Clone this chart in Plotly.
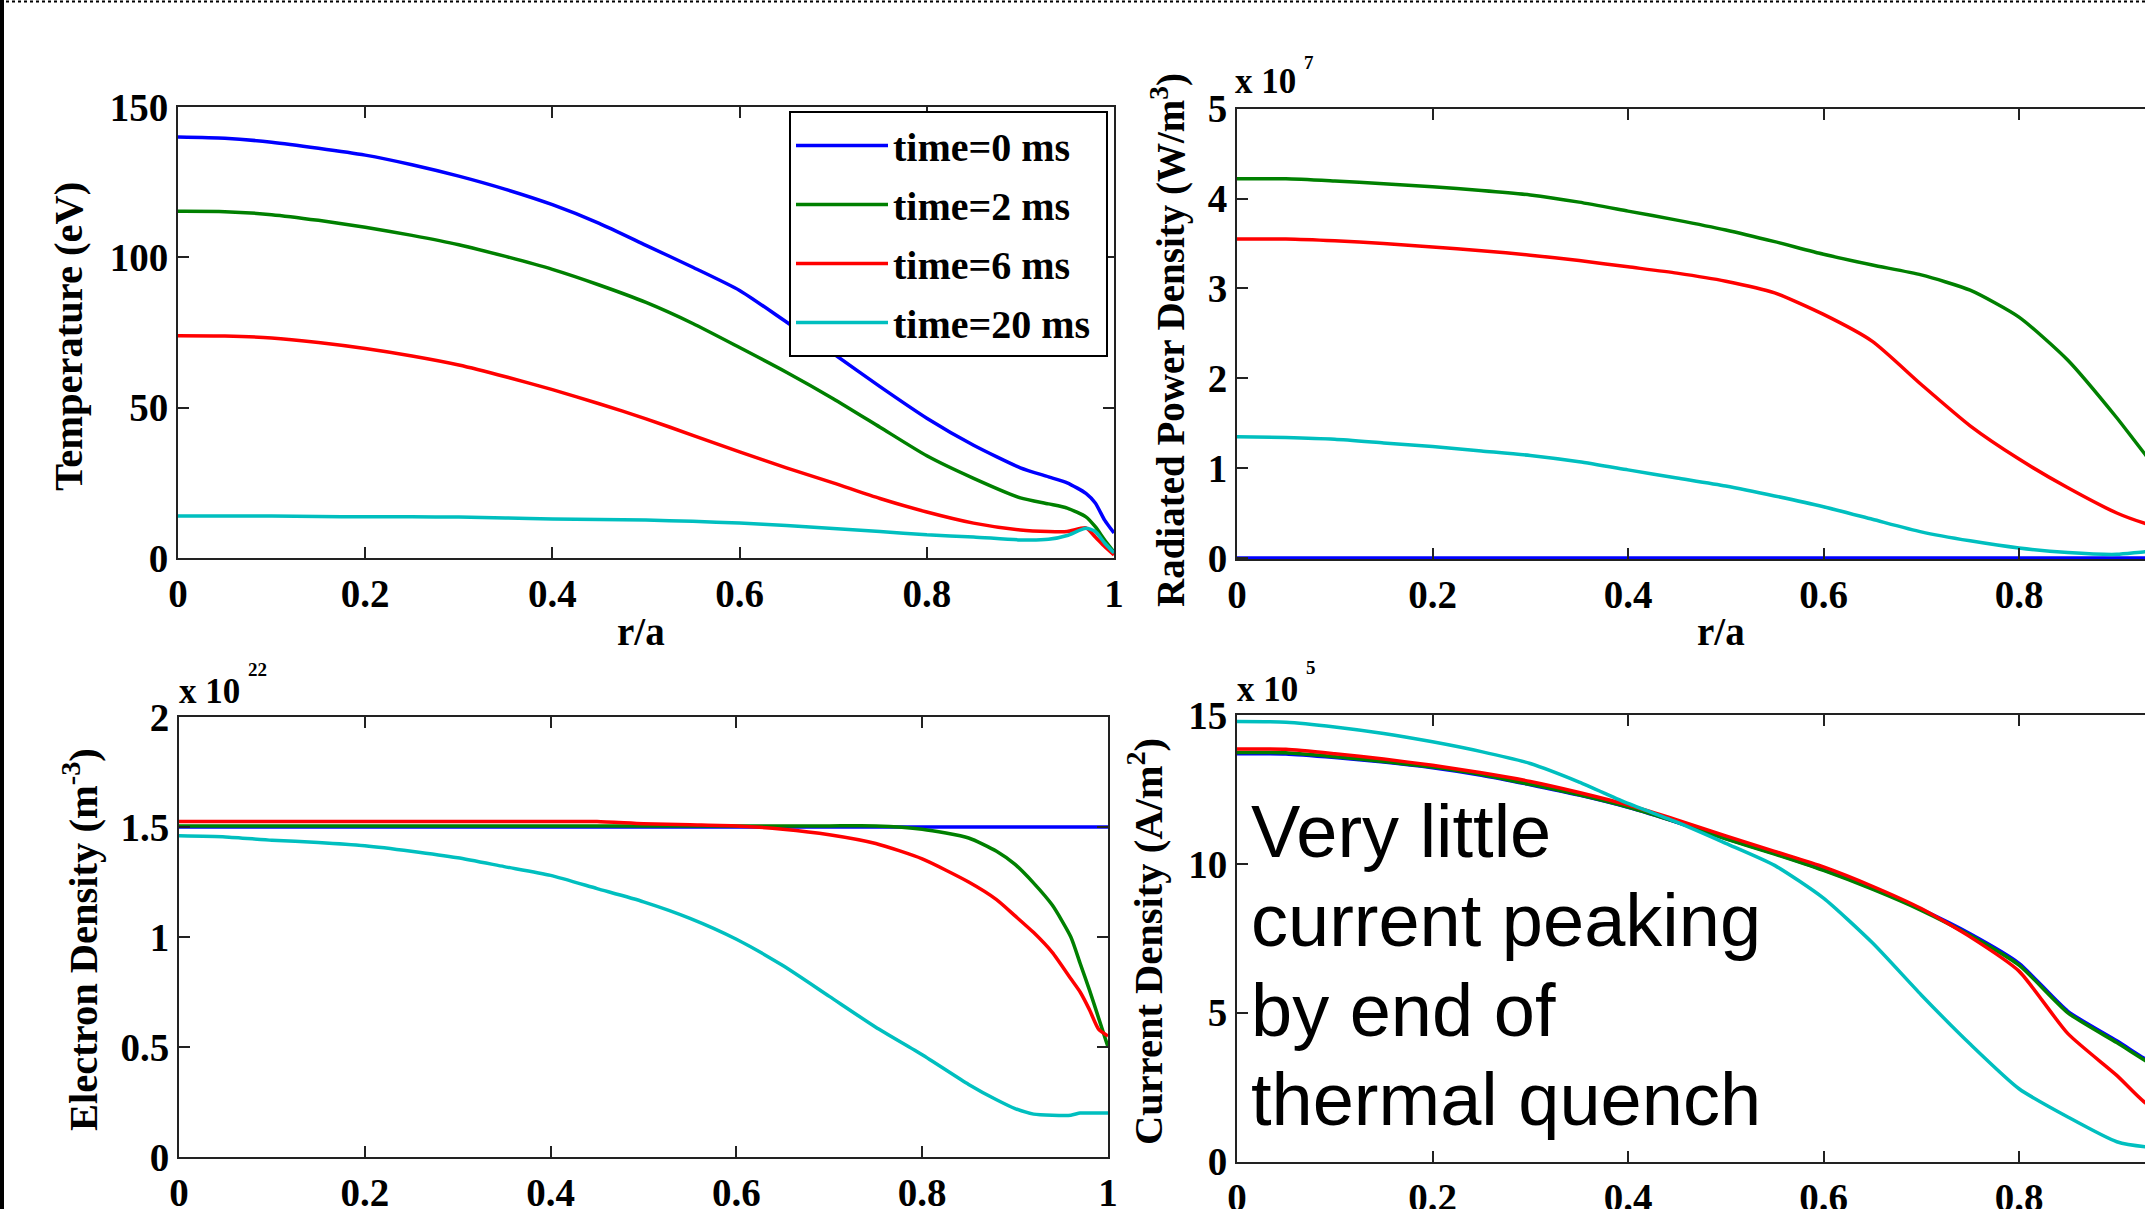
import plotly.graph_objects as go

W, H = 2145, 1209

# ---------------- data ----------------
series_names = ["time=0 ms", "time=2 ms", "time=6 ms", "time=20 ms\u00a0"]
series_colors = ["#0000ff", "#008000", "#ff0000", "#00bfbf"]

# Temperature (eV) vs r/a
r_temp = [0, 0.05, 0.1, 0.15, 0.2, 0.25, 0.3, 0.35, 0.4, 0.45, 0.5, 0.55, 0.6, 0.65,
          0.7, 0.75, 0.8, 0.85, 0.9, 0.93, 0.95, 0.97, 0.98, 0.99, 1.0]
temp_0ms = [140, 139.6, 138.3, 136.3, 134, 130.8, 127, 122.6, 117.5, 111.3, 104, 96.7, 89, 78.5,
            68, 57, 46.5, 37.5, 30, 27, 25, 21.5, 18.3, 12.6, 8.3]
temp_2ms = [115.3, 115.2, 114.2, 112.3, 110, 107.3, 104.2, 100.3, 96, 90.8, 85, 78, 70, 61.8,
            53, 43.5, 34, 26.5, 20, 18, 16.6, 13.7, 10.4, 6, 2]
temp_6ms = [73.9, 73.8, 73.2, 71.7, 69.7, 67.2, 64.2, 60.3, 56, 51.3, 46.3, 40.8, 35.3, 30,
            25, 19.8, 15.3, 11.6, 9.3, 8.8, 8.8, 10, 7.0, 3.8, 1]
temp_20ms = [14, 14, 14, 13.8, 13.7, 13.7, 13.6, 13.3, 13, 12.8, 12.6, 12.2, 11.6, 10.8,
             9.8, 8.8, 7.7, 7, 6, 6.2, 7.5, 9.9, 8.8, 5, 1.7]

# Radiated power density (x1e7 W/m^3)
r_rad = [0, 0.05, 0.1, 0.15, 0.2, 0.25, 0.3, 0.35, 0.4, 0.45, 0.5, 0.55, 0.6, 0.65,
         0.7, 0.75, 0.8, 0.85, 0.9, 0.93, 0.95]
rad_0ms = [0] * 21
rad_2ms = [4.22, 4.22, 4.195, 4.165, 4.13, 4.09, 4.04, 3.96, 3.86, 3.76, 3.65, 3.52, 3.38, 3.26,
           3.15, 2.98, 2.68, 2.2, 1.56, 1.14, 0.9]
rad_6ms = [3.55, 3.55, 3.53, 3.5, 3.46, 3.42, 3.37, 3.31, 3.24, 3.17, 3.08, 2.95, 2.71, 2.41,
           1.93, 1.47, 1.10, 0.78, 0.50, 0.38, 0.32]
rad_20ms = [1.35, 1.34, 1.32, 1.28, 1.24, 1.19, 1.14, 1.07, 0.98, 0.89, 0.80, 0.69, 0.57, 0.43,
            0.29, 0.19, 0.11, 0.06, 0.04, 0.07, 0.07]

# Electron density (x1e22 m^-3)
r_dens = [0, 0.05, 0.1, 0.15, 0.2, 0.25, 0.3, 0.35, 0.4, 0.45, 0.5, 0.55, 0.6, 0.65, 0.7,
          0.75, 0.8, 0.85, 0.88, 0.9, 0.92, 0.94, 0.96, 0.97, 0.98, 0.99, 1.0]
dens_0ms = [1.5] * 27
dens_2ms = [1.505, 1.505, 1.505, 1.505, 1.505, 1.505, 1.505, 1.505, 1.505, 1.505, 1.505, 1.505,
            1.505, 1.505, 1.505, 1.505, 1.49, 1.45, 1.39, 1.33, 1.245, 1.145, 1.0, 0.88, 0.76,
            0.63, 0.5]
dens_6ms = [1.525, 1.525, 1.525, 1.525, 1.525, 1.525, 1.525, 1.525, 1.525, 1.525, 1.515, 1.51,
            1.505, 1.49, 1.465, 1.425, 1.355, 1.25, 1.17, 1.096, 1.02, 0.93, 0.81, 0.75, 0.67,
            0.58, 0.55]
dens_20ms = [1.46, 1.455, 1.44, 1.43, 1.415, 1.39, 1.36, 1.32, 1.28, 1.22, 1.16, 1.085, 0.99,
             0.87, 0.73, 0.59, 0.465, 0.33, 0.26, 0.22, 0.195, 0.19, 0.19, 0.2, 0.2, 0.2, 0.2]

# Current density (x1e5 A/m^2)
r_cur = [0, 0.05, 0.1, 0.15, 0.2, 0.25, 0.3, 0.35, 0.4, 0.45, 0.5, 0.55, 0.6, 0.65,
         0.7, 0.75, 0.8, 0.85, 0.9, 0.93, 0.95]
cur_0ms = [13.7, 13.69, 13.57, 13.42, 13.23, 12.98, 12.66, 12.31, 11.9, 11.4, 10.85, 10.35, 9.8,
           9.18, 8.47, 7.65, 6.66, 5.05, 4.06, 3.43, 3.05]
cur_2ms = [13.74, 13.73, 13.6, 13.44, 13.25, 13.0, 12.67, 12.32, 11.91, 11.4, 10.84, 10.33, 9.78,
           9.15, 8.44, 7.6, 6.6, 5.0, 4.0, 3.38, 3.0]
cur_6ms = [13.86, 13.85, 13.7, 13.52, 13.31, 13.06, 12.77, 12.4, 11.98, 11.48, 10.94, 10.42, 9.9,
           9.25, 8.5, 7.55, 6.4, 4.3, 2.9, 1.96, 1.7]
cur_20ms = [14.78, 14.76, 14.6, 14.38, 14.1, 13.77, 13.37, 12.75, 12.03, 11.4, 10.69, 9.95, 8.85,
            7.35, 5.6, 3.95, 2.45, 1.5, 0.67, 0.5, 0.48]

x_ticks = [0, 0.2, 0.4, 0.6, 0.8, 1]
x_tick_text = ["0", "0.2", "0.4", "0.6", "0.8", "1"]
temp_ticks = [0, 50, 100, 150]
rad_ticks = [0, 1, 2, 3, 4, 5]
dens_ticks = [0, 0.5, 1, 1.5, 2]
dens_tick_text = ["0", "0.5", "1", "1.5", "2"]
cur_ticks = [0, 5, 10, 15]

note_lines = ["Very little", "current peaking", "by end of", "thermal quench"]

# ---------------- figure ----------------
def px(x):
    return x / W


def py(y):
    return 1 - y / H


fig = go.Figure()

panels = [
    ("x", "y", r_temp, [temp_0ms, temp_2ms, temp_6ms, temp_20ms]),
    ("x2", "y2", r_rad, [rad_0ms, rad_2ms, rad_6ms, rad_20ms]),
    ("x3", "y3", r_dens, [dens_0ms, dens_2ms, dens_6ms, dens_20ms]),
    ("x4", "y4", r_cur, [cur_0ms, cur_2ms, cur_6ms, cur_20ms]),
]
for pi, (xa, ya, rr, ys) in enumerate(panels):
    for si, yv in enumerate(ys):
        fig.add_trace(go.Scatter(
            x=rr, y=yv, mode="lines", xaxis=xa, yaxis=ya,
            name=series_names[si], legendgroup=series_names[si],
            showlegend=(pi == 0),
            line=dict(color=series_colors[si], width=3.5, shape="spline", smoothing=0.6),
        ))

SERIF = "Liberation Serif"
tickfont = dict(family=SERIF, size=39, color="black", weight="bold")
axis_common = dict(
    showline=True, linecolor="#222", linewidth=2,
    ticks="inside", ticklen=11, tickwidth=1.6, tickcolor="#222",
    showgrid=False, zeroline=False, tickfont=tickfont, fixedrange=True,
    automargin=False,
)
xr_right = (W - 1237) / 977.5

fig.update_layout(
    width=W, height=H,
    margin=dict(l=0, r=0, t=0, b=0, pad=0, autoexpand=False),
    paper_bgcolor="white", plot_bgcolor="white",
    showlegend=True,
    legend=dict(
        x=px(789), y=py(111), xanchor="left", yanchor="top",
        bordercolor="black", borderwidth=2, bgcolor="white",
        font=dict(family=SERIF, size=40, color="black", weight="bold"),
        itemwidth=92, tracegroupgap=4,
    ),
    xaxis=dict(domain=[px(178), px(1114)], range=[0, 1], anchor="y", mirror="ticks",
               tickvals=x_ticks, ticktext=x_tick_text, **axis_common),
    yaxis=dict(domain=[py(558), py(107)], range=[0, 150], anchor="x", mirror="ticks",
               tickvals=temp_ticks, **axis_common),
    xaxis2=dict(domain=[px(1237), 1], range=[0, xr_right], anchor="y2", mirror="ticks",
                tickvals=x_ticks, ticktext=x_tick_text, **axis_common),
    yaxis2=dict(domain=[py(559), py(108.7)], range=[-0.012, 5], anchor="x2", mirror=False,
                tickvals=rad_ticks, **axis_common),
    xaxis3=dict(domain=[px(179), px(1108)], range=[0, 1], anchor="y3", mirror="ticks",
                tickvals=x_ticks, ticktext=x_tick_text, **axis_common),
    yaxis3=dict(domain=[py(1157), py(717)], range=[0, 2], anchor="x3", mirror="ticks",
                tickvals=dens_ticks, ticktext=dens_tick_text, **axis_common),
    xaxis4=dict(domain=[px(1237), 1], range=[0, xr_right], anchor="y4", mirror="ticks",
                tickvals=x_ticks, ticktext=x_tick_text, **axis_common),
    yaxis4=dict(domain=[py(1161.7), py(715)], range=[0, 15], anchor="x4", mirror=False,
                tickvals=cur_ticks, **axis_common),
)

ann = []
# y-axis titles
for text, cx, cy, fs in [
    ("Temperature (eV)", 68, 337, 40.5),
    ("Radiated Power Density (W/m<sup>3</sup>)", 1168, 340, 39),
    ("Electron Density (m<sup>-3</sup>)", 80, 940, 40.5),
    ("Current Density (A/m<sup>2</sup>)", 1145, 942, 40.5),
]:
    ann.append(dict(text=text, x=px(cx), y=py(cy), xref="paper", yref="paper",
                    textangle=-90, showarrow=False, xanchor="center", yanchor="middle",
                    font=dict(family=SERIF, size=fs, color="black", weight="bold")))
# x-axis titles
label_font = dict(family=SERIF, size=39, color="black", weight="bold")
for cx in [641, 1721]:
    ann.append(dict(text="r/a", x=px(cx), y=py(631), xref="paper", yref="paper",
                    showarrow=False, xanchor="center", yanchor="middle", font=label_font))
# exponent labels
exp_font = dict(family=SERIF, size=35, color="black", weight="bold")
sup_font = dict(family=SERIF, size=19, color="black", weight="bold")
for lx, by, sx, sy, sup in [(1233, 82, 1302, 62, "7"), (177, 691, 246, 669, "22"),
                            (1235, 689, 1304, 667, "5")]:
    ann.append(dict(text="x 10", x=px(lx), y=py(by), xref="paper", yref="paper",
                    showarrow=False, xanchor="left", yanchor="middle", font=exp_font))
    ann.append(dict(text=sup, x=px(sx), y=py(sy), xref="paper", yref="paper",
                    showarrow=False, xanchor="left", yanchor="middle", font=sup_font))
# note text
note_font = dict(family="Liberation Sans", size=74, color="black")
for i, line in enumerate(note_lines):
    ann.append(dict(text=line, x=px(1249), y=py(831 + 89.5 * i), xref="paper", yref="paper",
                    showarrow=False, xanchor="left", yanchor="middle", font=note_font))
fig.update_layout(annotations=ann)

# slide decorations: dotted top border and black left edge
fig.add_shape(type="line", xref="paper", yref="paper", x0=0, x1=1, y0=py(1.5), y1=py(1.5),
              line=dict(color="black", width=2, dash="dot"))
fig.add_shape(type="rect", xref="paper", yref="paper", x0=0, x1=px(4), y0=0, y1=1,
              fillcolor="black", line=dict(width=0))

fig.write_html("out.html")
